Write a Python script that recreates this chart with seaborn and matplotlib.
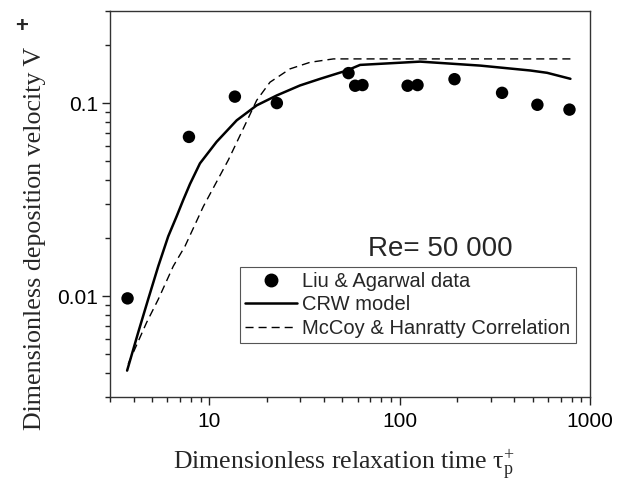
import matplotlib
matplotlib.use("Agg")
import matplotlib.pyplot as plt
import matplotlib.ticker as mticker
from matplotlib.lines import Line2D
import seaborn as sns
import pandas as pd

# Data
liu_x = [3.71, 7.80, 13.6, 22.6, 53.8, 58.3, 63.7, 110, 124, 194, 345, 529, 780]
liu_y = [0.00973, 0.0668, 0.108, 0.100, 0.143, 0.123, 0.124, 0.123, 0.124, 0.133, 0.113, 0.098, 0.0925]

crw_x = [3.69, 4.22, 4.76, 5.38, 6.07, 6.72, 7.28, 7.90, 8.91, 10.9, 13.9, 17.7, 22.6, 29.9,
         38.2, 52.7, 61.9, 128, 265, 486, 595, 789]
crw_y = [0.00411, 0.00648, 0.00962, 0.01428, 0.0204, 0.0259, 0.0315, 0.0381, 0.0487, 0.0630,
         0.0814, 0.0973, 0.1096, 0.1234, 0.1336, 0.1475, 0.1577, 0.164, 0.1564, 0.1475,
         0.1435, 0.1336]

mh_x = [3.74, 4.67, 5.38, 6.45, 7.43, 9.28, 12.56, 15.06, 17.7, 20.8, 26.5, 33.8, 44.8, 789]
mh_y = [0.00445, 0.00729, 0.00962, 0.01428, 0.0181, 0.0291, 0.0507, 0.0738, 0.1033,
        0.1283, 0.1504, 0.1627, 0.1694, 0.1694]

x_ticks = [10, 100, 1000]
x_ticklabels = ["10", "100", "1000"]
y_ticks = [0.01, 0.1]
y_ticklabels = ["0.01", "0.1"]

labels = ["Liu & Agarwal data", "CRW model", "McCoy & Hanratty Correlation"]

sns.set_style("ticks")
plt.rcParams["font.family"] = ["Liberation Sans", "DejaVu Sans"]
plt.rcParams["mathtext.fontset"] = "custom"
plt.rcParams["mathtext.rm"] = "Liberation Serif"
plt.rcParams["mathtext.it"] = "Liberation Serif:italic"

W, H = 630, 484
fig = plt.figure(figsize=(6.3, 4.84), dpi=100)
ax = fig.add_axes([110 / W, 1 - 397 / H, 480 / W, 386 / H])

df_liu = pd.DataFrame({"x": liu_x, "y": liu_y})
df_crw = pd.DataFrame({"x": crw_x, "y": crw_y})
df_mh = pd.DataFrame({"x": mh_x, "y": mh_y})

sns.lineplot(data=df_mh, x="x", y="y", ax=ax, color="black", linewidth=1.0,
             sort=False, estimator=None)
ax.lines[-1].set_dashes((5.8, 3.6))
sns.lineplot(data=df_crw, x="x", y="y", ax=ax, color="black", linewidth=1.8,
             sort=False, estimator=None)
ax.lines[-1].set_solid_joinstyle("round")
sns.scatterplot(data=df_liu, x="x", y="y", ax=ax, color="black", s=80,
                edgecolor="none", zorder=5)

ax.set_xscale("log")
ax.set_yscale("log")
ax.set_xlim(3, 1000)
ax.set_ylim(0.003, 0.3)

ax.xaxis.set_major_locator(mticker.FixedLocator(x_ticks))
ax.xaxis.set_major_formatter(mticker.FixedFormatter(x_ticklabels))
ax.yaxis.set_major_locator(mticker.FixedLocator(y_ticks))
ax.yaxis.set_major_formatter(mticker.FixedFormatter(y_ticklabels))
ax.xaxis.set_minor_locator(mticker.LogLocator(base=10, subs=range(2, 10)))
ax.yaxis.set_minor_locator(mticker.LogLocator(base=10, subs=range(2, 10)))
ax.xaxis.set_minor_formatter(mticker.NullFormatter())
ax.yaxis.set_minor_formatter(mticker.NullFormatter())

ax.tick_params(which="major", direction="out", length=5.8, width=1.0,
               labelsize=15, pad=5, colors="#222222", labelcolor="black")
ax.tick_params(which="minor", direction="out", length=3.6, width=1.0, colors="#222222")
ax.tick_params(axis="y", which="major", pad=3)
ax.tick_params(top=False, right=False, which="both")

for sp in ax.spines.values():
    sp.set_visible(True)
    sp.set_linewidth(1.0)
    sp.set_color("#333333")

ax.set_xlabel("")
ax.set_ylabel("")

# Axis labels
fig.text(173 / W, 1 - 469 / H,
         r"Dimensionless relaxation time $\mathrm{\tau}_{\mathrm{p}}^{+}$",
         family="Liberation Serif", fontsize=18.5, ha="left", va="baseline")
fig.text(35 / W, 1 - 238.5 / H, "Dimensionless deposition velocity V",
         family="Liberation Serif", fontsize=18.7, rotation=90,
         ha="center", va="center")
fig.text(22 / W, 1 - 27 / H, "+", family="Liberation Sans", fontsize=16,
         fontweight="bold", ha="center", va="center")

# Annotation
fig.text(513 / W, 1 - 256.5 / H, "Re= 50 000", fontsize=20,
         ha="right", va="baseline")

handles = [
    Line2D([], [], color="black", marker="o", linestyle="none", markersize=9),
    Line2D([], [], color="black", linewidth=1.8),
    Line2D([], [], color="black", linewidth=1.0, dashes=(5.8, 3.6)),
]
leg = ax.legend(handles, labels, loc="upper left",
                bbox_to_anchor=(240 / W, 1 - 267 / H), bbox_transform=fig.transFigure,
                fontsize=14.5, frameon=True, fancybox=False, framealpha=1,
                edgecolor="#555555", borderaxespad=0, borderpad=0.25,
                labelspacing=0.22, handlelength=2.6, handletextpad=0.25)
leg.get_frame().set_linewidth(0.8)

fig.savefig("out.png", dpi=100)
